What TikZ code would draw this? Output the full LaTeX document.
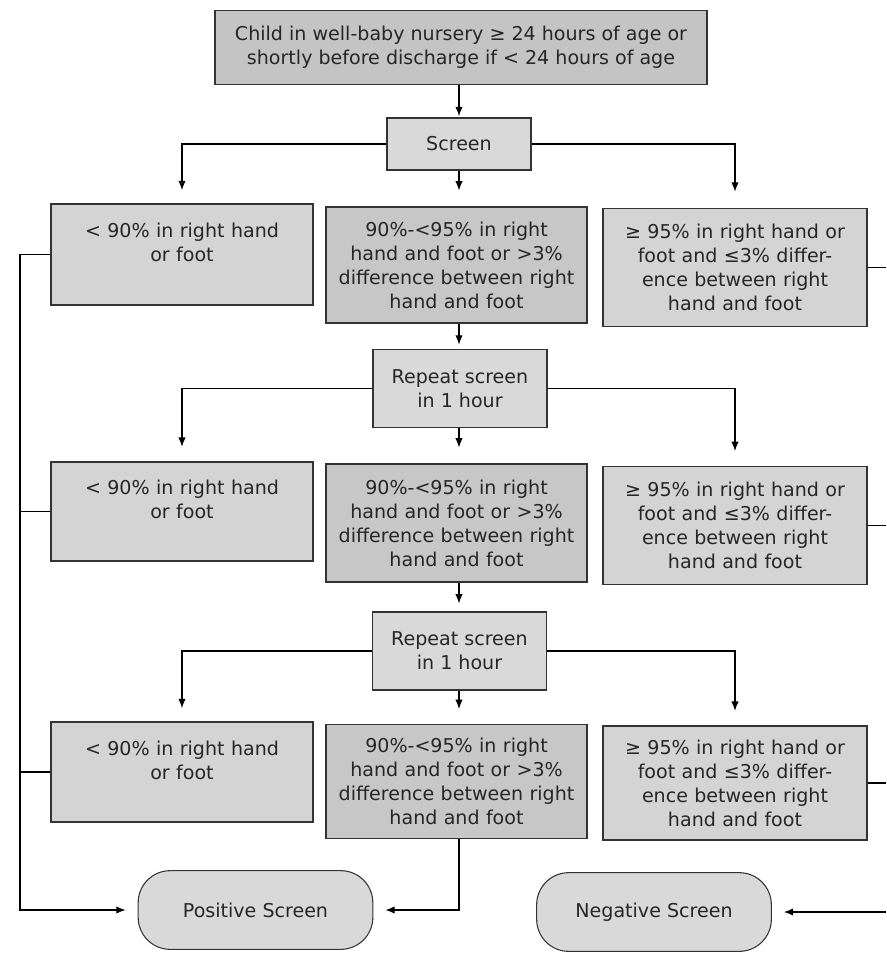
\documentclass[tikz,border=0pt]{standalone}
\usepackage{fontspec}
\setmainfont{DejaVu Sans}
\usetikzlibrary{arrows.meta}
\begin{document}
\begin{tikzpicture}[x=0.75pt,y=-0.75pt,
  every node/.style={font=\fontsize{14.3pt}{18pt}\selectfont},
  boxbase/.style={draw=black!80,line width=0.8pt,align=center,inner sep=0pt,text=black!85},
  sidebox/.style={boxbase,fill=black!17,minimum width=196.5pt,text width=190pt},
  midbox/.style={boxbase,fill=black!22,minimum width=195.75pt,text width=190pt},
  stepbox/.style={boxbase,fill=black!15},
  endbox/.style={boxbase,fill=black!15,rounded corners=24pt,minimum width=176pt,minimum height=59pt},
  conn/.style={draw=black,line width=0.8pt},
  arr/.style={conn,-{Latex[length=7pt,width=5.5pt]}}
]
\useasboundingbox (0,0) rectangle (886,953);

% top
\node[boxbase,fill=black!23,minimum width=369pt,minimum height=56pt] (top) at (461,47.5)
  {Child in well-baby nursery ≥ 24 hours of age or\\shortly before discharge if < 24 hours of age};
\node[stepbox,minimum width=108pt,minimum height=39pt] (screen) at (459,144) {Screen};

% row 1
\node[sidebox,minimum height=75.75pt] (r1L) at (182,254.5) {< 90\% in right hand\\or foot\\~};
\node[midbox,minimum height=87pt] (r1M) at (456.5,265) {90\%-<95\% in right\\hand and foot or >3\%\\difference between right\\hand and foot};
\node[sidebox,minimum width=198pt,minimum height=89pt] (r1R) at (735,267.5) {≥ 95\% in right hand or\\foot and ≤3\% differ-\\ence between right\\hand and foot};

\node[stepbox,minimum width=130.5pt,minimum height=59pt] (rep1) at (460,388.5) {Repeat screen\\in 1 hour};

% row 2
\node[sidebox,minimum height=74.25pt] (r2L) at (182,511.5) {< 90\% in right hand\\or foot\\~};
\node[midbox,minimum height=88.5pt] (r2M) at (456.5,523) {90\%-<95\% in right\\hand and foot or >3\%\\difference between right\\hand and foot};
\node[sidebox,minimum width=198pt,minimum height=89pt] (r2R) at (735,525.5) {≥ 95\% in right hand or\\foot and ≤3\% differ-\\ence between right\\hand and foot};

\node[stepbox,minimum width=131pt,minimum height=58.5pt] (rep2) at (459.5,651) {Repeat screen\\in 1 hour};

% row 3
\node[sidebox,minimum height=75pt] (r3L) at (182,772) {< 90\% in right hand\\or foot\\~};
\node[midbox,minimum height=86pt] (r3M) at (456.5,781.5) {90\%-<95\% in right\\hand and foot or >3\%\\difference between right\\hand and foot};
\node[sidebox,minimum width=198pt,minimum height=85.5pt] (r3R) at (735,783) {≥ 95\% in right hand or\\foot and ≤3\% differ-\\ence between right\\hand and foot};

% outcomes
\node[endbox] (pos) at (255.5,910) {Positive Screen};
\node[endbox] (neg) at (654,912) {Negative Screen};

\coordinate (lx) at (20,0);
\coordinate (rx) at (886,0);

% connectors top -> screen
\draw[arr,shorten >=1pt] (top.south -| screen) -- (screen.north);
\draw[arr,shorten >=10pt] (screen.west) -| (r1L.north);
\draw[arr,shorten >=12pt] (screen.south) -- (screen.south |- r1M.north);
\draw[arr,shorten >=12pt] (screen.east) -| (r1R.north);

\draw[arr,shorten >=3pt] (r1M.south -| screen) -- (rep1.north -| screen);
\draw[arr,shorten >=11pt] (rep1.west) -| (r2L.north);
\draw[arr,shorten >=12pt] (rep1.south -| screen) -- (r2M.north -| screen);
\draw[arr,shorten >=11pt] (rep1.east) -| (r2R.north);

\draw[arr,shorten >=6pt] (r2M.south -| screen) -- (rep2.north -| screen);
\draw[arr,shorten >=10pt] (rep2.west) -| (r3L.north);
\draw[arr,shorten >=11pt] (rep2.south -| screen) -- (r3M.north -| screen);
\draw[arr,shorten >=11pt] (rep2.east) -| (r3R.north);

% left collector to positive
\draw[conn] (r2L.west) -- (r2L.west -| lx);
\draw[conn] (r3L.west) -- (r3L.west -| lx);
\draw[arr,shorten >=9pt] (r1L.west) -- (r1L.west -| lx) |- (pos.west);
\draw[arr,shorten >=9pt] (r3M.south -| screen) |- (pos.east);

% right side (cropped collector)
\draw[conn] (r1R.east) -- (r1R.east -| rx);
\draw[conn] (r2R.east) -- (r2R.east -| rx);
\draw[conn] (r3R.east) -- (r3R.east -| rx);
\draw[arr,shorten >=9pt] (neg.east -| rx) -- (neg.east);
\end{tikzpicture}
\end{document}
